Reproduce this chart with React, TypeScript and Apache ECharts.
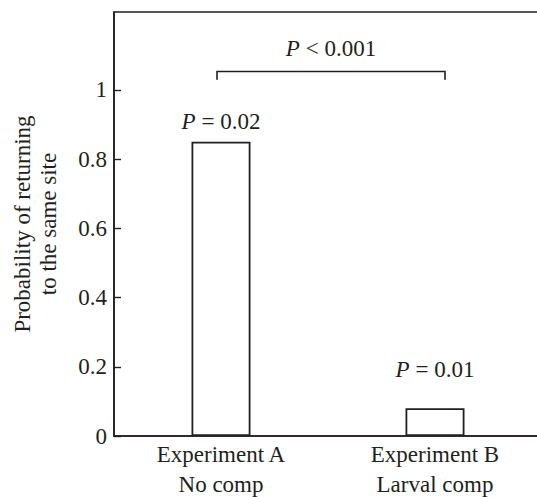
import React, { useEffect, useRef } from "react";
import * as echarts from "echarts";

const categories = ["Experiment A", "Experiment B"];
const subLabels = ["No comp", "Larval comp"];
const values = [0.85, 0.08];
const barPLabels = ["0.02", "0.01"];
const yTickValues = [0, 0.2, 0.4, 0.6, 0.8, 1];
const comparisonLabel = "< 0.001";

const FONT = "'Liberation Serif', 'Times New Roman', serif";
const INK = "#231f20";
const FS = 23;

export default function App() {
  const ref = useRef<HTMLDivElement>(null);
  useEffect(() => {
    document.body.style.margin = "0";
    const chart = echarts.init(ref.current!, null, { renderer: "svg" });
    const labelDistances = [9, 27];
    chart.setOption({
      animation: false,
      grid: {
        left: 114,
        top: 12,
        width: 428,
        bottom: 61,
        containLabel: false,
        outerBoundsMode: "none",
        show: true,
        borderColor: INK,
        borderWidth: 1.6,
        backgroundColor: "transparent",
      },
      xAxis: {
        type: "category",
        data: categories,
        axisLine: { lineStyle: { color: INK, width: 1.6 } },
        axisTick: { inside: true, length: 7, alignWithLabel: true, lineStyle: { color: INK, width: 1.4 } },
        axisLabel: {
          margin: 3,
          color: INK,
          fontFamily: FONT,
          fontSize: FS,
          lineHeight: 30,
          formatter: (v: string) => {
            const i = categories.indexOf(v);
            return v + "\n" + subLabels[i];
          },
        },
      },
      yAxis: {
        type: "value",
        min: 0,
        max: 1.225,
        interval: 0.2,
        splitLine: { show: false },
        axisLine: { show: true, lineStyle: { color: INK, width: 1.6 } },
        axisTick: { show: true, inside: true, length: 7, customValues: yTickValues, lineStyle: { color: INK, width: 1.4 } },
        axisLabel: {
          margin: 7,
          color: INK,
          fontFamily: FONT,
          fontSize: FS,
          customValues: yTickValues,
          formatter: (v: number) => String(Math.round(v * 10) / 10),
        },
        name: "Probability of returning\nto the same site",
        nameLocation: "middle",
        nameGap: 53,
        nameTextStyle: { color: INK, fontFamily: FONT, fontSize: FS, lineHeight: 26 },
      },
      series: [
        {
          type: "bar",
          barWidth: 59,
          data: values.map((v, i) => ({
            value: v,
            label: {
              show: true,
              position: "top",
              distance: labelDistances[i],
              formatter: "{i|P} = " + barPLabels[i],
              color: INK,
              fontFamily: FONT,
              fontSize: FS,
              rich: { i: { fontStyle: "italic", fontFamily: FONT, fontSize: FS, color: INK } },
            },
          })),
          itemStyle: { color: "#ffffff", borderColor: INK, borderWidth: 1.8 },
        },
      ],
    });

    const pA = chart.convertToPixel({ gridIndex: 0 }, [0, 1.053]);
    const pB = chart.convertToPixel({ gridIndex: 0 }, [1, 1.053]);
    const pLow = chart.convertToPixel({ gridIndex: 0 }, [0, 1.029]);
    const x1 = pA[0] - 4;
    const x2 = pB[0] + 10;
    const yTop = pA[1];
    const yLow = pLow[1];
    chart.setOption({
      graphic: [
        {
          type: "polyline",
          shape: { points: [[x1, yLow], [x1, yTop], [x2, yTop], [x2, yLow]] },
          style: { stroke: INK, lineWidth: 1.6, fill: null },
        },
        {
          type: "text",
          x: (x1 + x2) / 2,
          y: yTop - 23,
          style: {
            text: "{i|P} " + comparisonLabel,
            fontFamily: FONT,
            fontSize: FS,
            fill: INK,
            align: "center",
            verticalAlign: "middle",
            rich: { i: { fontStyle: "italic", fontFamily: FONT, fontSize: FS, fill: INK } },
          },
        },
      ],
    });
    return () => chart.dispose();
  }, []);
  return <div ref={ref} style={{ width: 537, height: 497 }} />;
}
